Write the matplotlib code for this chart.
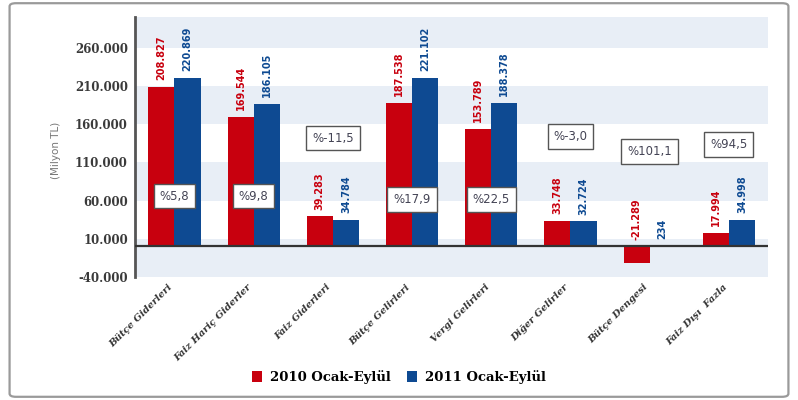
import matplotlib

matplotlib.use("Agg")
import matplotlib.pyplot as plt
import numpy as np
from matplotlib.patches import FancyBboxPatch, Patch

categories = [
    "Bütçe Giderleri",
    "Faiz Hariç Giderler",
    "Faiz Giderleri",
    "Bütçe Gelirleri",
    "Vergi Gelirleri",
    "Diğer Gelirler",
    "Bütçe Dengesi",
    "Faiz Dışı  Fazla",
]
values_2010 = [208827, 169544, 39283, 187538, 153789, 33748, -21289, 17994]
values_2011 = [220869, 186105, 34784, 221102, 188378, 32724, 234, 34998]
labels_2010 = ["208.827", "169.544", "39.283", "187.538", "153.789", "33.748", "-21.289", "17.994"]
labels_2011 = ["220.869", "186.105", "34.784", "221.102", "188.378", "32.724", "234", "34.998"]
change_labels = ["%5,8", "%9,8", "%-11,5", "%17,9", "%22,5", "%-3,0", "%101,1", "%94,5"]
series_names = ["2010 Ocak-Eylül", "2011 Ocak-Eylül"]
y_ticks = [-40000, 10000, 60000, 110000, 160000, 210000, 260000]

# layout only: vertical position of the change boxes (data units)
box_y = [66000, 66000, 142000, 61000, 61000, 144000, 124000, 133000]

RED = "#C8000E"
BLUE = "#0E4A92"
BAND = "#E8EEF6"
SERIF = "DejaVu Serif"

fig = plt.figure(figsize=(7.98, 4.0), dpi=100)
fig.patches.append(FancyBboxPatch((0.012, 0.008), 0.976, 0.984,
                                  boxstyle="round,pad=0,rounding_size=0.008",
                                  transform=fig.transFigure, facecolor="none",
                                  edgecolor="#9a9a9a", linewidth=1.6, zorder=0))
ax = fig.add_axes([0.169, 0.3075, 0.794, 0.65])
ax.set_facecolor("none")

ymin, ymax = -40000, 300500
edges = y_ticks + [ymax]
for i in range(len(edges) - 1):
    if i % 2 == 0:
        ax.axhspan(edges[i], edges[i + 1], color=BAND, lw=0, zorder=0)

x = np.arange(len(categories))
w = 0.33
ax.bar(x - w / 2, values_2010, width=w, color=RED, zorder=2)
ax.bar(x + w / 2, values_2011, width=w, color=BLUE, zorder=2)

for xi, v, t in zip(x, values_2010, labels_2010):
    ax.annotate(t, (xi - w / 2, max(v, 0)), xytext=(0, 5), textcoords="offset points",
                rotation=90, ha="center", va="bottom", fontsize=7,
                fontweight="bold", color=RED, zorder=4)
for xi, v, t in zip(x, values_2011, labels_2011):
    ax.annotate(t, (xi + w / 2, max(v, 0)), xytext=(0, 5), textcoords="offset points",
                rotation=90, ha="center", va="bottom", fontsize=7,
                fontweight="bold", color=BLUE, zorder=4)

for xi, yb, t in zip(x, box_y, change_labels):
    ax.text(xi, yb, t, ha="center", va="center", fontsize=8.5, color="#444455",
            zorder=5, bbox=dict(boxstyle="square,pad=0.5", facecolor="white",
                                edgecolor="#555555", linewidth=1.0))

ax.axhline(0, color="#333333", lw=1.6, zorder=3)
ax.set_xlim(-0.5, len(categories) - 0.5)
ax.set_ylim(ymin, ymax)

ax.set_yticks(y_ticks)
ax.set_yticklabels([f"{t:,}".replace(",", ".") for t in y_ticks],
                   fontfamily=SERIF, fontweight="bold", fontsize=8.5, color="#3a3a3a")
ax.set_xticks(x)
ax.set_xticklabels(categories, rotation=45, ha="right", va="top",
                   fontfamily=SERIF, fontweight="bold", fontstyle="italic",
                   fontsize=7, color="#333333")
ax.tick_params(axis="both", length=0)
ax.tick_params(axis="y", pad=5)
ax.tick_params(axis="x", pad=4)

for side in ["top", "right", "bottom"]:
    ax.spines[side].set_visible(False)
ax.spines["left"].set_color("#555555")
ax.spines["left"].set_linewidth(2)

fig.text(0.070, 0.625, "(Milyon TL)", rotation=90, ha="center", va="center",
         fontsize=7.5, color="#777777")

handles = [Patch(facecolor=RED), Patch(facecolor=BLUE)]
fig.legend(handles, series_names, loc="center", bbox_to_anchor=(0.5, 0.058),
           ncol=2, frameon=False, handlelength=0.8, handleheight=0.9,
           handletextpad=0.6, columnspacing=1.2,
           prop=dict(family=SERIF, weight="bold", size=9.5))

fig.savefig("out.png", dpi=100)
plt.close(fig)
